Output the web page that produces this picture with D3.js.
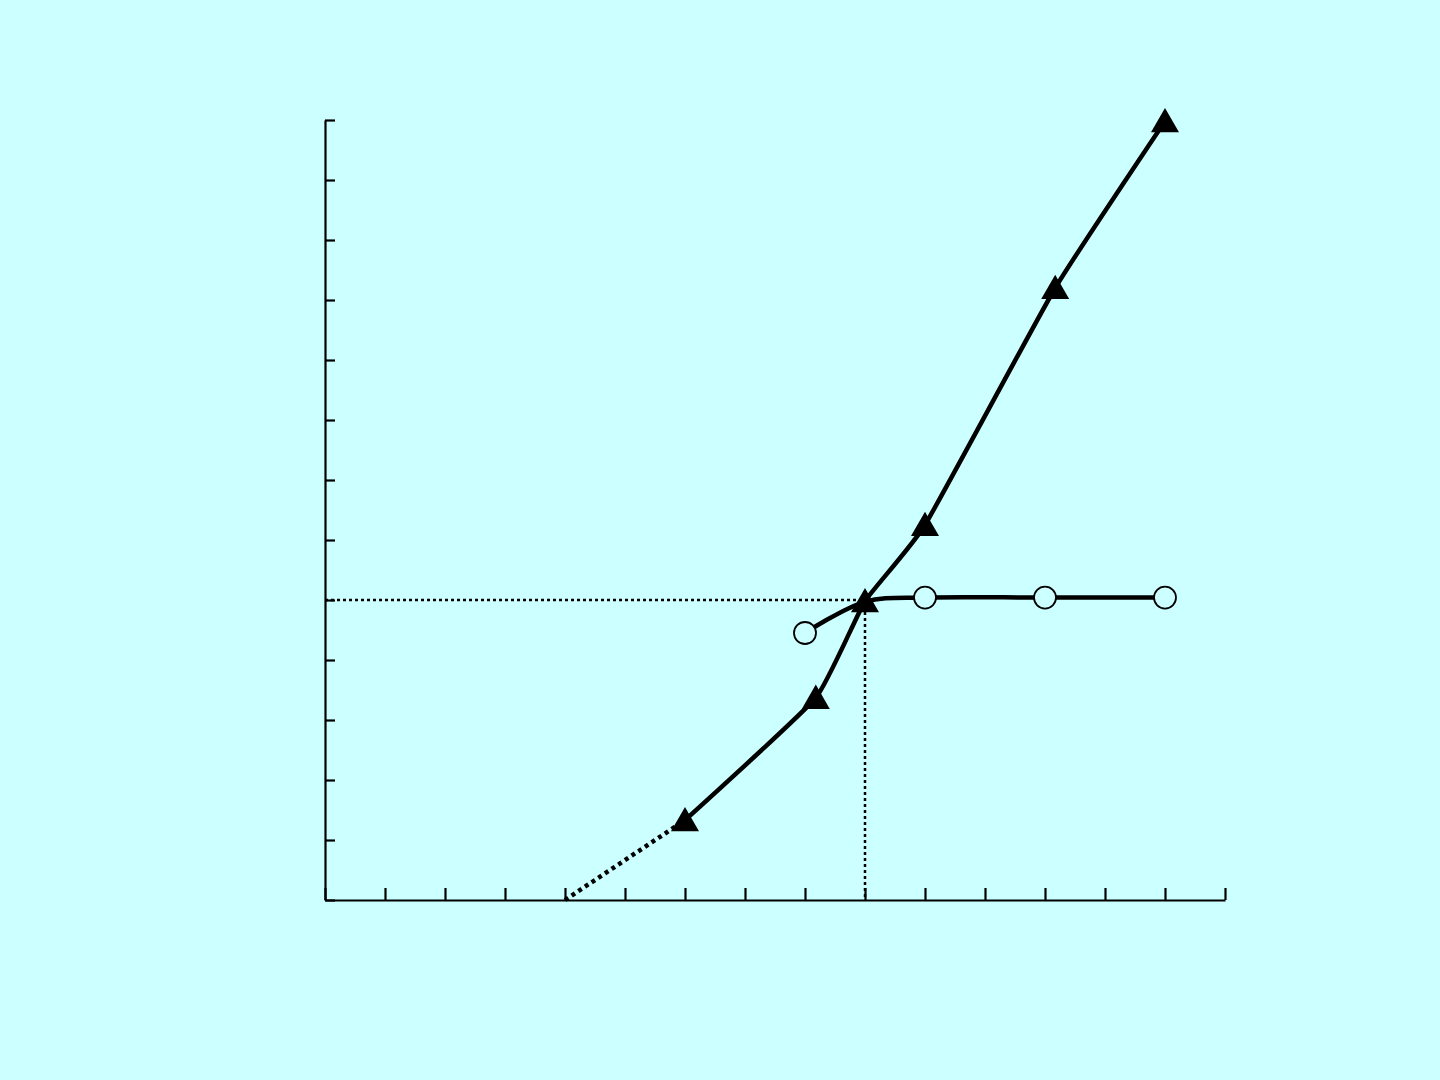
<!DOCTYPE html>
<html><head><meta charset="utf-8">
<script src="https://cdn.jsdelivr.net/npm/d3@7"></script>
<style>html,body{margin:0;padding:0;background:#ccffff;}</style>
</head><body>
<svg id="c" width="1440" height="1080"></svg>
<script>
// data (x in axis units 0..15, y in axis units 0..13)
const xTicks = d3.range(0, 16);
const yTicks = d3.range(0, 14);
const triX = [6, 8.18, 9, 10, 12.17, 14];
const triY = [1.33, 3.37, 4.98, 6.25, 10.2, 12.98];
const circX = [8, 9, 10, 12, 14];
const circY = [4.45, 4.97, 5.04, 5.04, 5.04];
const circMarker = [true, false, true, true, true];
const extX = [4, 6];
const extY = [0, 1.33];
const refX = 9, refY = 5;

const svg = d3.select("#c");
const x = d3.scaleLinear().domain([0, 15]).range([325, 1225]);
const y = d3.scaleLinear().domain([0, 13]).range([900, 120]);

// axes
const xAxis = d3.axisTop(x).tickValues(xTicks).tickSize(12).tickFormat("").tickSizeOuter(0);
const yAxis = d3.axisRight(y).tickValues(yTicks).tickSize(10).tickFormat("").tickSizeOuter(0);
const gx = svg.append("g").attr("transform", `translate(0,${y(0)})`).call(xAxis);
const gy = svg.append("g").attr("transform", `translate(${x(0)},0)`).call(yAxis);
[gx, gy].forEach(g => {
  g.select(".domain").attr("stroke", "#000").attr("stroke-width", 2.2);
  g.selectAll(".tick line").attr("stroke", "#000").attr("stroke-width", 2.2);
});

// reference dotted lines
svg.append("path")
  .attr("d", d3.line()([[x(0), y(refY)], [x(refX), y(refY)], [x(refX), y(0)]]))
  .attr("fill", "none").attr("stroke", "#000").attr("stroke-width", 2.5)
  .attr("stroke-dasharray", "3,3");

// dotted extension
svg.append("path")
  .attr("d", d3.line()(extX.map((v, i) => [x(v), y(extY[i])])))
  .attr("fill", "none").attr("stroke", "#000").attr("stroke-width", 4.5)
  .attr("stroke-dasharray", "4,4");

// circle series line
svg.append("path")
  .attr("d", d3.line().curve(d3.curveCatmullRom.alpha(0.5))(circX.map((v, i) => [x(v), y(circY[i])])))
  .attr("fill", "none").attr("stroke", "#000").attr("stroke-width", 4.5);
// triangle series line
svg.append("path")
  .attr("d", d3.line().curve(d3.curveCardinal.tension(0.6))(triX.map((v, i) => [x(v), y(triY[i])])))
  .attr("fill", "none").attr("stroke", "#000").attr("stroke-width", 4.5);

// circle markers
svg.selectAll("circle.m").data(circX.map((v, i) => ({x: v, y: circY[i], m: circMarker[i]})).filter(d => d.m))
  .enter().append("circle")
  .attr("cx", d => x(d.x)).attr("cy", d => y(d.y)).attr("r", 11)
  .attr("fill", "#ccffff").attr("stroke", "#000").attr("stroke-width", 1.8);

// triangle markers
const tri = d3.symbol().type(d3.symbolTriangle).size(340);
svg.selectAll("path.t").data(triX.map((v, i) => ({x: v, y: triY[i]})))
  .enter().append("path")
  .attr("d", tri)
  .attr("transform", d => `translate(${x(d.x)},${y(d.y) + 3})`)
  .attr("fill", "#000");
</script>
</body></html>
